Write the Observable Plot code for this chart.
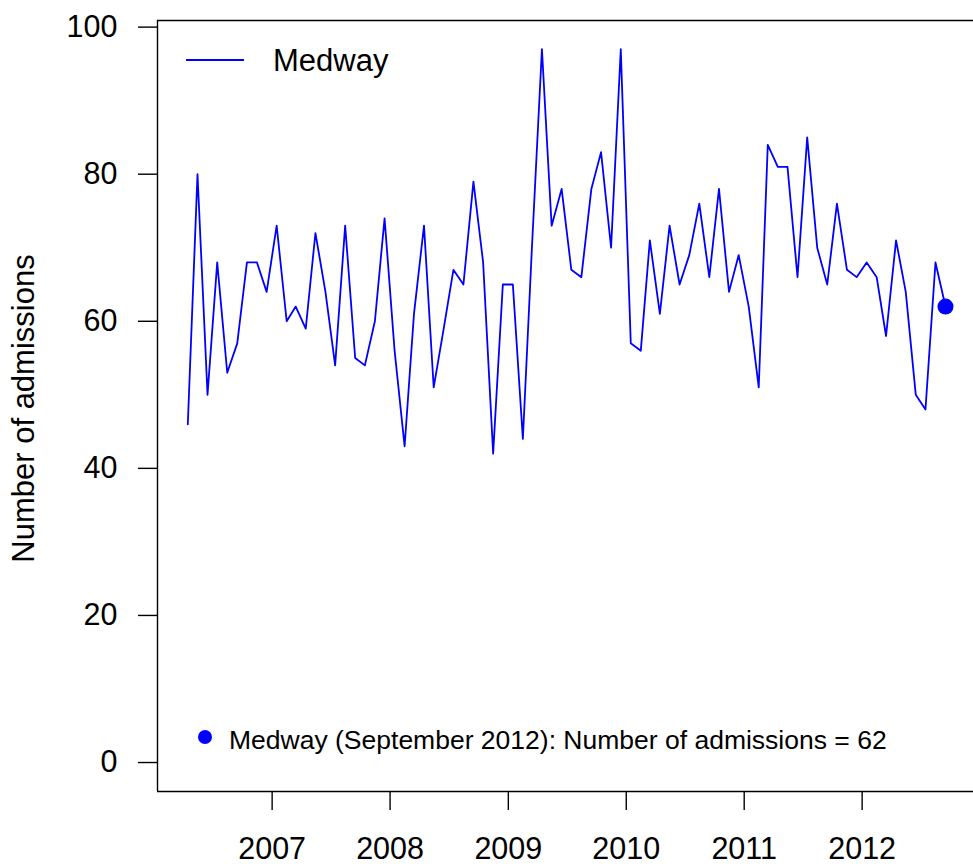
<!DOCTYPE html>
<html>
<head>
<meta charset="utf-8">
<script src="https://cdn.jsdelivr.net/npm/d3@7"></script>
<script src="https://cdn.jsdelivr.net/npm/@observablehq/plot@0.6"></script>
<style>
  html, body { margin: 0; padding: 0; background: #fff; }
  svg { display: block; }
</style>
</head>
<body>
<div id="chart"></div>
<script>
// ---- data ----
const seriesName = "Medway";
const measure = "Number of admissions";
const firstMonth = "2006-04";
const admissions2006 = [46, 80, 50, 68, 53, 57, 68, 68, 64];               // Apr–Dec
const admissions2007 = [73, 60, 62, 59, 72, 64, 54, 73, 55, 54, 60, 74];
const admissions2008 = [56, 43, 61, 73, 51, 59, 67, 65, 79, 68, 42, 65];
const admissions2009 = [65, 44, 70, 97, 73, 78, 67, 66, 78, 83, 70, 97];
const admissions2010 = [57, 56, 71, 61, 73, 65, 69, 76, 66, 78, 64, 69];
const admissions2011 = [62, 51, 84, 81, 81, 66, 85, 70, 65, 76, 67, 66];
const admissions2012 = [68, 66, 58, 71, 64, 50, 48, 68, 62];               // Jan–Sep
const yTicks = [0, 20, 40, 60, 80, 100];
const xTickYears = [2007, 2008, 2009, 2010, 2011, 2012];

// ---- build table ----
const admissions = [].concat(admissions2006, admissions2007, admissions2008,
  admissions2009, admissions2010, admissions2011, admissions2012);
const start = d3.utcParse("%Y-%m")(firstMonth);
const data = admissions.map((v, i) => {
  const m = d3.utcMonth.offset(start, i);
  return { month: m, date: d3.utcDay.offset(m, 14), value: v };
});
const last = data[data.length - 1];
const [d0, d1] = d3.extent(data, d => d.date);
const span = d1 - d0;
const xDomain = [new Date(+d0 - 0.04 * span), new Date(+d1 + 0.04 * span)];
const yDomain = [-3.94, 100.9];
const xTicks = xTickYears.map(y => new Date(Date.UTC(y, 0, 1)));

const font = "'Liberation Sans', Arial, Helvetica, sans-serif";
const blue = "#0000ff";

const plot = Plot.plot({
  width: 973,
  height: 866,
  marginLeft: 157,
  marginRight: 0,
  marginTop: 20,
  marginBottom: 75,
  style: { fontFamily: font, background: "#fff", color: "#000", overflow: "visible" },
  x: { type: "utc", domain: xDomain, range: [157, 975.3] },
  y: { domain: yDomain },
  marks: [
    Plot.ruleX([xDomain[0]], { stroke: "#000", strokeWidth: 1.4 }),
    Plot.ruleY([yDomain[0]], { stroke: "#000", strokeWidth: 1.4 }),
    Plot.ruleY([yDomain[1]], { stroke: "#000", strokeWidth: 1.4 }),
    Plot.axisY(yTicks, {
      tickSize: 19, tickPadding: 21, fontSize: 30.5, strokeWidth: 1.4,
      tickFormat: d => String(d), label: null
    }),
    Plot.axisX(xTicks, {
      tickSize: 19, tickPadding: 27, fontSize: 30.5, strokeWidth: 1.4,
      tickFormat: d3.utcFormat("%Y"), label: null
    }),
    Plot.text([measure], {
      frameAnchor: "left", textAnchor: "middle", dx: -133.5, dy: 2.5,
      rotate: -90, fontSize: 31, fill: "#000"
    }),
    Plot.line(data, { x: "date", y: "value", stroke: blue, strokeWidth: 1.8 }),
    Plot.dot([last], { x: "date", y: "value", r: 8, fill: blue, stroke: "none" })
  ]
});

// ---- legend & annotation ----
const svg = d3.select(plot);
const lg = svg.append("g").attr("font-family", font).attr("text-anchor", "start");
lg.append("line")
  .attr("x1", 186).attr("x2", 244).attr("y1", 60).attr("y2", 60)
  .attr("stroke", blue).attr("stroke-width", 1.8);
lg.append("text")
  .attr("x", 273).attr("y", 60).attr("dy", "0.36em")
  .attr("font-size", 31).attr("fill", "#000")
  .text(seriesName);

const ann = svg.append("g").attr("font-family", font).attr("text-anchor", "start");
ann.append("circle").attr("cx", 205).attr("cy", 737).attr("r", 7).attr("fill", blue);
ann.append("text")
  .attr("x", 229).attr("y", 739).attr("dy", "0.36em")
  .attr("font-size", 26.5).attr("fill", "#000")
  .text(`${seriesName} (${d3.utcFormat("%B %Y")(last.month)}): ${measure} = ${last.value}`);

document.getElementById("chart").appendChild(plot);
</script>
</body>
</html>
